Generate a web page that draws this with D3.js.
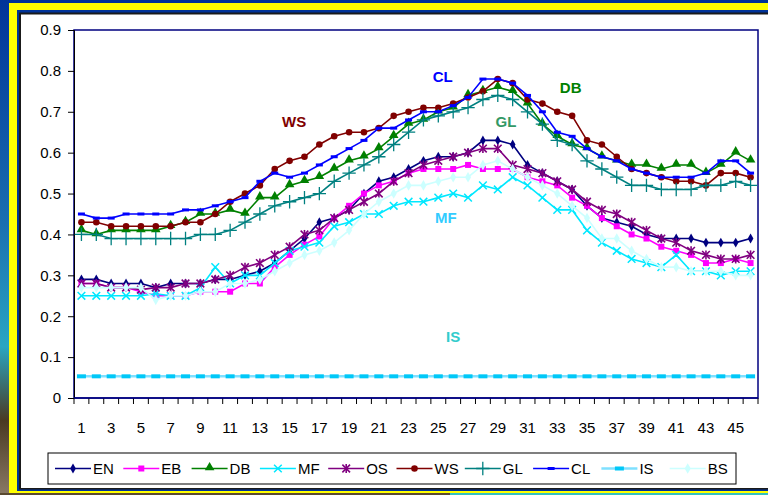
<!doctype html>
<html>
<head>
<meta charset="utf-8">
<script src="https://cdn.jsdelivr.net/npm/d3@7"></script>
<style>
  html, body { margin: 0; padding: 0; background: #003399; }
  svg { display: block; }
  text { font-family: "Liberation Sans", Arial, sans-serif; }
</style>
</head>
<body>
<script>
// categories 1..46
var cats = d3.range(1, 47);

var EN = [0.29,0.29,0.28,0.28,0.28,0.27,0.28,0.28,0.28,0.29,0.29,0.30,0.31,0.33,0.36,0.39,0.43,0.44,0.46,0.50,0.53,0.54,0.56,0.58,0.59,0.59,0.60,0.63,0.63,0.62,0.57,0.55,0.53,0.51,0.47,0.44,0.43,0.42,0.40,0.39,0.39,0.39,0.38,0.38,0.38,0.39];
var EB = [0.28,0.28,0.27,0.27,0.26,0.25,0.25,0.25,0.26,0.26,0.26,0.28,0.28,0.32,0.35,0.375,0.395,0.44,0.47,0.50,0.52,0.53,0.55,0.56,0.56,0.56,0.57,0.56,0.56,0.56,0.54,0.53,0.52,0.49,0.47,0.44,0.42,0.40,0.39,0.37,0.36,0.35,0.33,0.33,0.34,0.33];
var DB = [0.41,0.40,0.41,0.41,0.41,0.41,0.42,0.43,0.45,0.45,0.46,0.45,0.49,0.49,0.52,0.53,0.54,0.56,0.58,0.59,0.61,0.64,0.67,0.68,0.70,0.71,0.74,0.75,0.76,0.75,0.72,0.67,0.64,0.62,0.61,0.59,0.58,0.57,0.57,0.56,0.57,0.57,0.55,0.57,0.60,0.58];
var MF = [0.25,0.25,0.25,0.25,0.25,0.255,0.25,0.25,0.27,0.32,0.28,0.30,0.30,0.33,0.36,0.37,0.38,0.42,0.43,0.45,0.45,0.47,0.48,0.48,0.49,0.50,0.49,0.52,0.51,0.54,0.52,0.49,0.46,0.46,0.41,0.38,0.36,0.34,0.33,0.32,0.35,0.31,0.31,0.30,0.31,0.31];
var OS = [0.28,0.28,0.27,0.27,0.265,0.27,0.27,0.28,0.28,0.29,0.30,0.32,0.33,0.35,0.37,0.40,0.41,0.44,0.46,0.48,0.50,0.53,0.55,0.57,0.58,0.59,0.60,0.61,0.61,0.57,0.56,0.55,0.53,0.51,0.48,0.46,0.45,0.43,0.41,0.39,0.38,0.36,0.35,0.34,0.34,0.35];
var WS = [0.43,0.43,0.42,0.42,0.42,0.42,0.42,0.43,0.43,0.45,0.48,0.50,0.52,0.56,0.58,0.59,0.62,0.64,0.65,0.65,0.66,0.69,0.70,0.71,0.71,0.72,0.735,0.75,0.78,0.77,0.73,0.72,0.70,0.69,0.63,0.62,0.59,0.56,0.55,0.54,0.53,0.53,0.52,0.55,0.55,0.54];
var GL = [0.40,0.40,0.39,0.39,0.39,0.39,0.39,0.39,0.40,0.40,0.41,0.43,0.45,0.47,0.48,0.49,0.50,0.53,0.55,0.57,0.59,0.62,0.65,0.68,0.69,0.70,0.71,0.73,0.74,0.73,0.70,0.67,0.63,0.62,0.58,0.56,0.54,0.52,0.52,0.51,0.51,0.51,0.52,0.52,0.53,0.52];
var CL = [0.45,0.44,0.44,0.45,0.45,0.45,0.45,0.46,0.46,0.47,0.48,0.49,0.53,0.55,0.54,0.55,0.57,0.59,0.61,0.63,0.66,0.66,0.68,0.70,0.70,0.715,0.735,0.78,0.78,0.77,0.74,0.70,0.65,0.64,0.61,0.59,0.58,0.56,0.55,0.54,0.54,0.54,0.55,0.58,0.58,0.55];
var IS = cats.map(function(){ return 0.053; });
var BS = [0.27,0.27,0.27,0.27,0.27,0.24,0.25,0.25,0.26,0.26,0.28,0.28,0.29,0.31,0.33,0.35,0.36,0.38,0.41,0.45,0.48,0.50,0.52,0.52,0.53,0.54,0.54,0.57,0.58,0.56,0.54,0.52,0.50,0.47,0.44,0.39,0.39,0.36,0.34,0.32,0.32,0.31,0.31,0.31,0.30,0.30];

var names = ["EN","EB","DB","MF","OS","WS","GL","CL","IS","BS"];
var values = [EN, EB, DB, MF, OS, WS, GL, CL, IS, BS];
var yTicks = [0,0.1,0.2,0.3,0.4,0.5,0.6,0.7,0.8,0.9];

// text labels sitting in the plot
var noteNames = ["CL","DB","WS","GL","MF","IS"];
var noteCat   = [25.3, 33.9, 15.3, 29.55, 25.5, 26.0];
var noteVal   = [0.785, 0.758, 0.675, 0.675, 0.44, 0.149];

var styles = {
  EN: {c:"#000080", m:"diamond"},
  EB: {c:"#ff00ff", m:"square"},
  DB: {c:"#008000", m:"triangle"},
  MF: {c:"#00e8ff", m:"times"},
  OS: {c:"#800080", m:"asterisk"},
  WS: {c:"#800000", m:"circle"},
  GL: {c:"#008080", m:"plus"},
  CL: {c:"#0000ff", m:"dash"},
  IS: {c:"#00ccff", m:"isdash"},
  BS: {c:"#ccffff", m:"lightdiamond"}
};
var noteColors = {CL:"#0000ff", DB:"#008000", WS:"#800000", GL:"#339966", MF:"#33ccff", IS:"#33cccc"};

var W = 768, H = 495;
var svg = d3.select("body").append("svg").attr("width", W).attr("height", H);

// frame
var defs = svg.append("defs");
var g1 = defs.append("linearGradient").attr("id","side").attr("x1",0).attr("y1",0).attr("x2",0).attr("y2",1);
g1.append("stop").attr("offset","0").attr("stop-color","#003399");
g1.append("stop").attr("offset","0.45").attr("stop-color","#1a6fb0");
g1.append("stop").attr("offset","0.7").attr("stop-color","#2aa6c2");
g1.append("stop").attr("offset","0.85").attr("stop-color","#4a3a22");
g1.append("stop").attr("offset","1").attr("stop-color","#8a7a66");
svg.append("rect").attr("x",0).attr("y",0).attr("width",9).attr("height",H).attr("fill","url(#side)");
svg.append("rect").attr("x",0).attr("y",493).attr("width",450).attr("height",2).attr("fill","#5a4a30");
svg.append("rect").attr("x",450).attr("y",493).attr("width",318).attr("height",2).attr("fill","#33c0c0");
svg.append("rect").attr("x",9).attr("y",3).attr("width",W).attr("height",490).attr("fill","#ffff00");
svg.append("rect").attr("x",17).attr("y",10).attr("width",W).attr("height",481).attr("fill","#003399");
svg.append("rect").attr("x",19).attr("y",12.5).attr("width",W).attr("height",477).attr("fill","#1a1a1a");
svg.append("rect").attr("x",21).attr("y",14.5).attr("width",W).attr("height",473.5).attr("fill","#ffffff");

var pLeft = 74, pRight = 758, pTop = 30, pBottom = 398;
var x = d3.scaleBand().domain(cats).range([pLeft, pRight]).padding(0);
var xl = d3.scaleLinear().domain([0.5, 46.5]).range([pLeft, pRight]);
var y = d3.scaleLinear().domain([0, 0.9]).range([pBottom, pTop]);
var cx = function(d){ return x(d) + x.bandwidth() / 2; };

// plot box
svg.append("rect").attr("x", pLeft).attr("y", pTop).attr("width", pRight - pLeft).attr("height", pBottom - pTop)
  .attr("fill", "none").attr("stroke", "#000080").attr("stroke-width", 1.5);

// y axis
var ya = svg.append("g").attr("transform", "translate(" + pLeft + ",0)")
  .call(d3.axisLeft(y).tickValues(yTicks).tickSize(6).tickPadding(7)
    .tickFormat(function(d){ return d === 0 ? "0" : d3.format(".1f")(d); }));
ya.select(".domain").attr("stroke", "#000");
ya.selectAll("line").attr("stroke", "#000");
ya.selectAll("text").attr("font-size", 15).attr("fill", "#000")
  .style("font-family", "'Liberation Sans', Arial, sans-serif");

// x axis: ticks at band edges, odd labels under centres
var edges = cats.map(function(d){ return x(d); }).concat([pRight]);
svg.append("g").selectAll("line").data(edges).join("line")
  .attr("x1", function(d){ return d; }).attr("x2", function(d){ return d; })
  .attr("y1", pBottom).attr("y2", pBottom + 6).attr("stroke", "#000");
svg.append("line").attr("x1", pLeft).attr("x2", pRight).attr("y1", pBottom).attr("y2", pBottom)
  .attr("stroke", "#000080").attr("stroke-width", 1.5);
svg.append("g").selectAll("text").data(cats.filter(function(d){ return d % 2 === 1; })).join("text")
  .attr("x", cx).attr("y", 433).attr("text-anchor", "middle").attr("font-size", 15).attr("fill", "#000")
  .text(function(d){ return d; });

// markers
function marker(sel, kind, col) {
  if (kind === "diamond" || kind === "lightdiamond") {
    sel.append("path").attr("d", d3.symbol(d3.symbolDiamond, kind === "diamond" ? 28 : 32)()).attr("fill", col);
  } else if (kind === "square") {
    sel.append("path").attr("d", d3.symbol(d3.symbolSquare, 36)()).attr("fill", col);
  } else if (kind === "triangle") {
    sel.append("path").attr("d", d3.symbol(d3.symbolTriangle, 40)()).attr("fill", col).attr("transform", "translate(0,-1)");
  } else if (kind === "circle") {
    sel.append("circle").attr("r", 3.3).attr("fill", col);
  } else if (kind === "times") {
    sel.append("path").attr("d", d3.symbol(d3.symbolTimes, 40)()).attr("fill", "none").attr("stroke", col).attr("stroke-width", 1.5);
  } else if (kind === "asterisk") {
    sel.append("path").attr("d", d3.symbol(d3.symbolTimes, 40)()).attr("fill", "none").attr("stroke", col).attr("stroke-width", 1.6);
    sel.append("line").attr("x1", 0).attr("x2", 0).attr("y1", -4.5).attr("y2", 4.5).attr("stroke", col).attr("stroke-width", 1.6);
  } else if (kind === "plus") {
    sel.append("path").attr("d", d3.symbol(d3.symbolPlus, 60)()).attr("fill", "none").attr("stroke", col).attr("stroke-width", 1.3);
  } else if (kind === "dash") {
    sel.append("rect").attr("x", -3.5).attr("y", -1.5).attr("width", 7).attr("height", 3).attr("fill", col);
  } else if (kind === "isdash") {
    sel.append("rect").attr("x", -4.5).attr("y", -2).attr("width", 9).attr("height", 4).attr("fill", "#00c8f8");
  }
}

var line = d3.line().x(function(d){ return cx(d.c); }).y(function(d){ return y(d.v); });

names.forEach(function(n, i) {
  var st = styles[n];
  var pts = cats.map(function(c, j){ return {c: c, v: values[i][j]}; });
  svg.append("path").datum(pts).attr("d", line).attr("fill", "none")
    .attr("stroke", n === "IS" ? "#7fe0ff" : st.c).attr("stroke-width", n === "IS" ? 2.5 : 1.6);
  svg.append("g").selectAll("g").data(pts).join("g")
    .attr("transform", function(d){ return "translate(" + cx(d.c) + "," + y(d.v) + ")"; })
    .each(function(){ marker(d3.select(this), st.m, st.c); });
});

// notes
svg.append("g").selectAll("text").data(noteNames).join("text")
  .attr("x", function(d, i){ return xl(noteCat[i]); })
  .attr("y", function(d, i){ return y(noteVal[i]); })
  .attr("dy", "0.35em").attr("text-anchor", "middle")
  .attr("font-size", 15).attr("font-weight", "bold")
  .attr("fill", function(d){ return noteColors[d]; })
  .text(function(d){ return d; });

// legend
svg.append("rect").attr("x", 48).attr("y", 453).attr("width", 688).attr("height", 31)
  .attr("fill", "#fff").attr("stroke", "#000").attr("stroke-width", 1);
var lg = svg.append("g").selectAll("g").data(names).join("g")
  .attr("transform", function(d, i){ return "translate(" + (55 + i * 68.3) + ",468.5)"; });
lg.append("line").attr("x1", 0).attr("x2", 36).attr("y1", 0).attr("y2", 0)
  .attr("stroke", function(d){ return d === "IS" ? "#7fe0ff" : styles[d].c; })
  .attr("stroke-width", function(d){ return d === "IS" ? 2.5 : 1.6; });
lg.each(function(d){
  var m = d3.select(this).append("g").attr("transform", "translate(18,0)");
  marker(m, styles[d].m, styles[d].c);
});
lg.append("text").attr("x", 38).attr("y", 0).attr("dy", "0.36em").attr("font-size", 15).attr("fill", "#000")
  .text(function(d){ return d; });
</script>
</body>
</html>
